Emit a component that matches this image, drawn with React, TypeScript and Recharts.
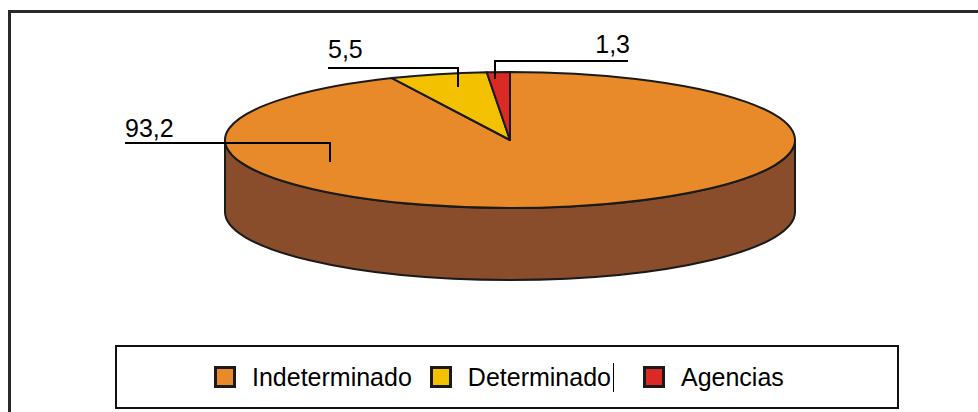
import { PieChart, Pie, Cell, Legend } from "recharts";

const categories = ["Indeterminado", "Determinado", "Agencias"];
const values = [93.2, 5.5, 1.3];
const valueLabels = ["93,2", "5,5", "1,3"];
const colors = ["#E8892A", "#F3C100", "#DA2A26"];
const sideColor = "#8A4D2B";

const data = categories.map((name, i) => ({ name, value: values[i], text: valueLabels[i] }));

// ellipse squash + thickness of the fake 3D disc
const TILT = 0.2386;
const DEPTH = 72;
const RAD = Math.PI / 180;
const INK = "#1a1a1a";

// leader lines, relative to pie center (tick end, horizontal line y, far end x)
const leaders = [
  { tx: -180, ty: 22, ly: 3, fx: -385, anchor: "start", by: -3 },
  { tx: -52, ty: -53, ly: -72, fx: -182, anchor: "start", by: -82 },
  { tx: -15, ty: -61, ly: -79, fx: 118, anchor: "end", by: -87 },
];

function pt(cx: number, cy: number, rx: number, ry: number, a: number) {
  return [cx + rx * Math.cos(a * RAD), cy - ry * Math.sin(a * RAD)];
}

function Slice3D(props: any) {
  const { cx, cy, outerRadius, startAngle, endAngle, fill } = props;
  const rx = outerRadius;
  const ry = outerRadius * TILT;
  const lo = Math.min(startAngle, endAngle);
  const hi = Math.max(startAngle, endAngle);

  // front wall: parts of the slice lying in the lower half of the ellipse
  const sides = [];
  for (let k = -2; k <= 2; k++) {
    const s = Math.max(lo, 180 + 360 * k);
    const e = Math.min(hi, 360 + 360 * k);
    if (e <= s) continue;
    const [x0, y0] = pt(cx, cy, rx, ry, s);
    const [x1, y1] = pt(cx, cy, rx, ry, e);
    const d = `M${x0},${y0} A${rx},${ry} 0 0 0 ${x1},${y1} L${x1},${y1 + DEPTH} A${rx},${ry} 0 0 1 ${x0},${y0 + DEPTH} Z`;
    sides.push(<path key={k} d={d} fill={sideColor} stroke={INK} strokeWidth={2} strokeLinejoin="round" />);
  }

  const [sx, sy] = pt(cx, cy, rx, ry, startAngle);
  const [ex, ey] = pt(cx, cy, rx, ry, endAngle);
  const large = Math.abs(endAngle - startAngle) > 180 ? 1 : 0;
  const sweep = endAngle < startAngle ? 1 : 0;
  const top = `M${cx},${cy} L${sx},${sy} A${rx},${ry} 0 ${large} ${sweep} ${ex},${ey} Z`;

  return (
    <g>
      {sides}
      <path d={top} fill={fill} stroke={INK} strokeWidth={2} strokeLinejoin="round" />
    </g>
  );
}

function renderLabel(props: any) {
  const { cx, cy, index, payload } = props;
  const g = leaders[index];
  const tickX = cx + g.tx;
  const lineY = cy + g.ly;
  return (
    <g>
      <polyline
        points={`${cx + g.fx},${lineY} ${tickX},${lineY} ${tickX},${cy + g.ty}`}
        fill="none"
        stroke="#000"
        strokeWidth={2}
      />
      <text
        x={g.anchor === "end" ? cx + g.fx + 2 : cx + g.fx}
        y={cy + g.by}
        textAnchor={g.anchor}
        fontSize={25}
        fontFamily="Liberation Sans, Arial, sans-serif"
        fill="#000"
      >
        {payload.text}
      </text>
    </g>
  );
}

function renderLegend() {
  const gaps = [97, 18, 29];
  return (
    <div
      style={{
        width: 784,
        height: 64,
        border: "2px solid #111",
        display: "flex",
        alignItems: "center",
        fontFamily: "Liberation Sans, Arial, sans-serif",
        fontSize: 25,
        color: "#000",
        boxSizing: "border-box",
      }}
    >
      {categories.map((name, i) => (
        <div key={name} style={{ display: "flex", alignItems: "center", marginLeft: gaps[i] }}>
          <span
            style={{
              width: 22,
              height: 22,
              boxSizing: "border-box",
              border: "3px solid #1a1a1a",
              background: colors[i],
              marginRight: 16,
            }}
          />
          <span style={{ borderRight: i === 1 ? "1px solid #000" : "none", paddingRight: i === 1 ? 2 : 0 }}>
            {name}
          </span>
        </div>
      ))}
    </div>
  );
}

export default function App() {
  return (
    <div style={{ position: "relative", width: 978, height: 412, background: "#fff", overflow: "hidden" }}>
      <style>{"html,body{margin:0;padding:0;overflow:hidden}"}</style>
      <div
        style={{
          position: "absolute",
          left: 8,
          top: 10,
          width: 967,
          height: 399,
          borderTop: "3px solid #2a2a2a",
          borderLeft: "3px solid #2a2a2a",
        }}
      />
      <PieChart
        width={978}
        height={412}
        margin={{ top: 0, right: 0, bottom: 0, left: 0 }}
        style={{ position: "absolute", left: 0, top: 0 }}
      >
        <Pie
          data={data}
          dataKey="value"
          nameKey="name"
          cx={510}
          cy={140}
          outerRadius={285}
          startAngle={90}
          endAngle={-270}
          shape={Slice3D}
          label={renderLabel}
          labelLine={false}
          isAnimationActive={false}
        >
          {data.map((d, i) => (
            <Cell key={d.name} fill={colors[i]} />
          ))}
        </Pie>
        <Legend
          content={renderLegend}
          wrapperStyle={{ position: "absolute", left: 115, top: 345, width: 784, height: 64 }}
        />
      </PieChart>
    </div>
  );
}
